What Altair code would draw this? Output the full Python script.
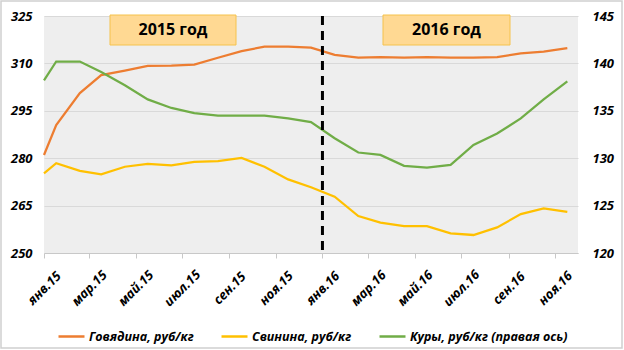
import altair as alt
import pandas as pd

# ---- data ----
dates = [
    "2015-01-01", "2015-01-17", "2015-02-17", "2015-03-17", "2015-04-17", "2015-05-17",
    "2015-06-17", "2015-07-17", "2015-08-17", "2015-09-17", "2015-10-17", "2015-11-17",
    "2015-12-17", "2016-01-17", "2016-02-17", "2016-03-17", "2016-04-17", "2016-05-17",
    "2016-06-17", "2016-07-17", "2016-08-17", "2016-09-17", "2016-10-17", "2016-11-17",
]
beef = [281.0, 290.5, 300.6, 306.3, 307.7, 309.2, 309.3, 309.6, 311.8, 313.9, 315.3, 315.3,
        315.0, 312.7, 311.8, 312.0, 311.8, 312.0, 311.8, 311.8, 312.0, 313.2, 313.7, 314.8]
pork = [275.2, 278.4, 276.0, 274.9, 277.3, 278.2, 277.7, 278.8, 279.1, 280.1, 277.3, 273.3,
        270.8, 267.8, 261.7, 259.6, 258.5, 258.5, 256.2, 255.7, 258.1, 262.3, 264.1, 263.0]
chicken = [138.2, 140.2, 140.2, 139.1, 137.7, 136.2, 135.3, 134.75, 134.5, 134.5, 134.5, 134.2,
           133.8, 132.1, 130.6, 130.35, 129.2, 129.0, 129.3, 131.4, 132.6, 134.2, 136.2, 138.1]

series_names = ["Говядина, руб/кг", "Свинина, руб/кг", "Куры, руб/кг (правая ось)"]
series_colors = ["#ED7D31", "#FFC000", "#70AD47"]
month_abbr = ["янв", "фев", "мар", "апр", "май", "июн", "июл", "авг", "сен", "окт", "ноя", "дек"]
tick_months = [(2015, 1), (2015, 3), (2015, 5), (2015, 7), (2015, 9), (2015, 11),
               (2016, 1), (2016, 3), (2016, 5), (2016, 7), (2016, 9), (2016, 11)]
x_domain = [(2015, 1), (2016, 12)]
left_ticks = [250, 265, 280, 295, 310, 325]
right_ticks = [120, 125, 130, 135, 140, 145]
period_labels = ["2015 год", "2016 год"]
divider_date = ["2016-01-01"]

FONT = "Open Sans"

rows = []
for name, vals in zip(series_names, [beef, pork, chicken]):
    for d, v in zip(dates, vals):
        rows.append({"date": d, "value": v, "series": name})
df = pd.DataFrame(rows)

months_js = "[" + ",".join("'%s'" % m for m in month_abbr) + "]"
label_expr = months_js + "[utcmonth(datum.value)] + '.' + utcFormat(datum.value, '%y')"

x_enc = alt.X(
    "date:T",
    scale=alt.Scale(type="utc", domain=[alt.DateTime(year=y, month=m, date=1, utc=True) for y, m in x_domain]),
    axis=alt.Axis(
        values=[alt.DateTime(year=y, month=m, date=1, utc=True) for y, m in tick_months],
        labelExpr=label_expr, title=None, grid=False,
        labelAngle=315, labelAlign="center", labelBaseline="middle", labelPadding=30,
        domainColor="#c8c8c8", tickColor="#c8c8c8", tickSize=5,
        labelFont=FONT, labelFontSize=13, labelFontStyle="italic", labelFontWeight="bold",
        labelColor="#000000",
    ),
)

color_enc = alt.Color(
    "series:N",
    scale=alt.Scale(domain=series_names, range=series_colors),
    legend=alt.Legend(
        title=None, orient="none", direction="horizontal", columns=3,
        legendX=13, legendY=306,
        symbolType="stroke", symbolStrokeWidth=2.5, symbolSize=676,
        labelFont=FONT, labelFontSize=12.5, labelFontStyle="italic", labelFontWeight="bold",
        labelColor="#000000", columnPadding=22, labelOffset=3,
    ),
)

left = alt.Chart(df).transform_filter(
    alt.FieldOneOfPredicate(field="series", oneOf=series_names[:2])
).mark_line(strokeWidth=2.25).encode(
    x=x_enc,
    y=alt.Y("value:Q", scale=alt.Scale(domain=[left_ticks[0], left_ticks[-1]], nice=False, zero=False),
            axis=alt.Axis(values=left_ticks, title=None, grid=True, gridColor="#d9d9d9",
                          domain=False, ticks=False, labelPadding=12,
                          labelFont=FONT, labelFontSize=13, labelFontStyle="italic",
                          labelFontWeight="bold", labelColor="#000000")),
    color=color_enc,
)

right = alt.Chart(df).transform_filter(
    alt.FieldEqualPredicate(field="series", equal=series_names[2])
).mark_line(strokeWidth=2.25).encode(
    x=x_enc,
    y=alt.Y("value:Q", scale=alt.Scale(domain=[right_ticks[0], right_ticks[-1]], nice=False, zero=False),
            axis=alt.Axis(values=right_ticks, title=None, grid=False, orient="right",
                          domain=False, ticks=False, labelPadding=14,
                          labelFont=FONT, labelFontSize=13, labelFontStyle="italic",
                          labelFontWeight="bold", labelColor="#000000")),
    color=color_enc,
)

rule = alt.Chart(pd.DataFrame({"date": divider_date})).mark_rule(
    color="#000000", strokeWidth=3, strokeDash=[9, 6]
).encode(x=alt.X("date:T"))


def box(label, x0, x1):
    d = pd.DataFrame({"label": [label]})
    r = alt.Chart(d).mark_rect(fill="#FFD993", stroke="#F5C24C", strokeWidth=1).encode(
        x=alt.value(x0), x2=alt.value(x1), y=alt.value(-1), y2=alt.value(29))
    t = alt.Chart(d).mark_text(font=FONT, fontSize=16, fontWeight="bold", color="#000000",
                               align="center", baseline="middle").encode(
        text="label:N", x=alt.value((x0 + x1) / 2), y=alt.value(14))
    return r + t


border = alt.Chart(pd.DataFrame({"label": [""]})).mark_rect(
    fillOpacity=0, stroke="#d0d0d0", strokeWidth=1.5
).encode(x=alt.value(-43), x2=alt.value(578), y=alt.value(-15), y2=alt.value(332))

chart = alt.layer(
    left, right, rule,
    box(period_labels[0], 66, 192),
    box(period_labels[1], 339, 466),
    border,
).resolve_scale(y="independent").properties(
    width=534, height=237,
    padding={"left": 44, "top": 16, "right": 46, "bottom": 97},
    autosize=alt.AutoSizeParams(type="none"),
    background="#ffffff",
).configure_view(fill="#eeeeee", strokeWidth=0)

chart.save("out.html", embed_options={"renderer": "svg", "actions": False})
